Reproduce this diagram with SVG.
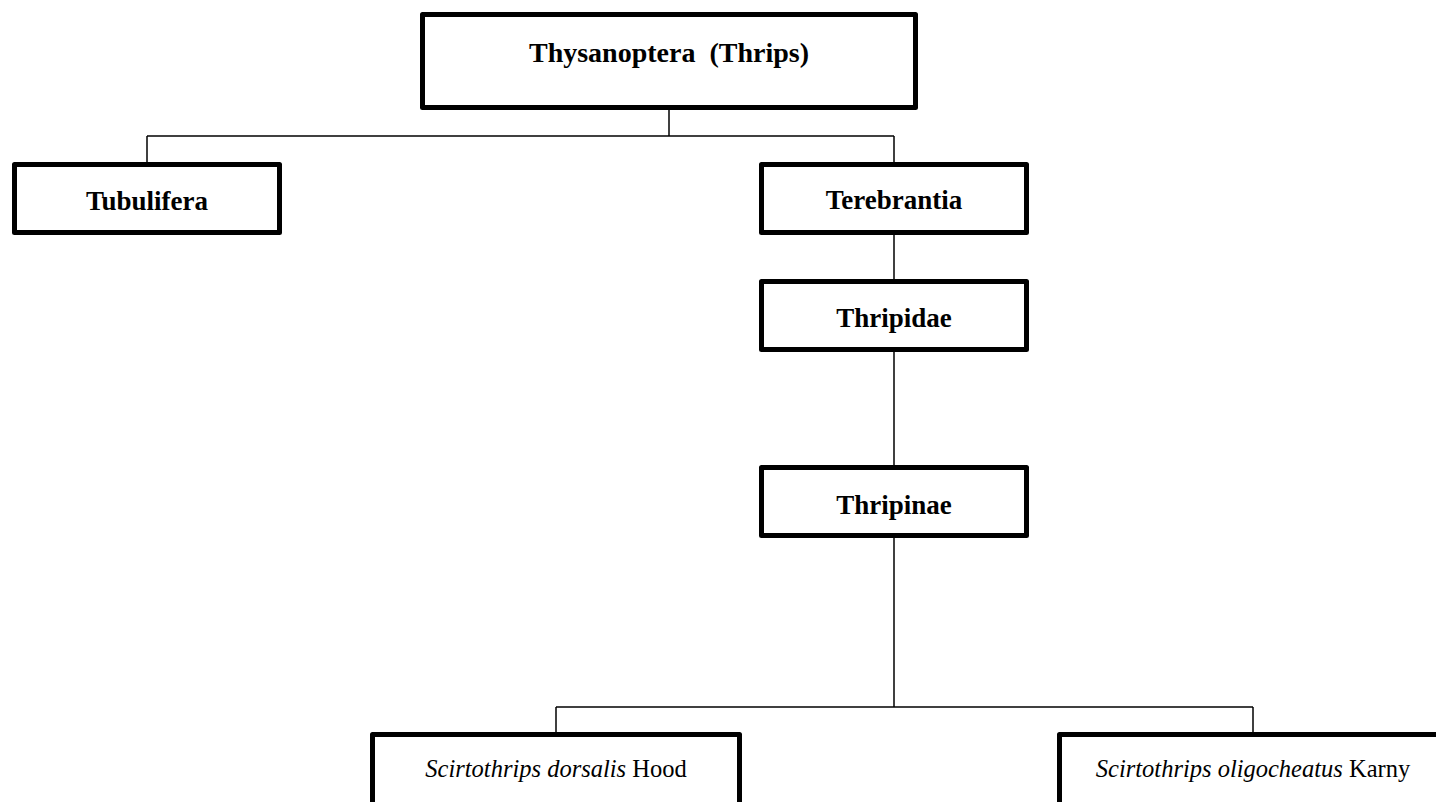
<svg xmlns="http://www.w3.org/2000/svg" width="1436" height="802" viewBox="0 0 1436 802">
<style>
.box{fill:#fff;stroke:#000;stroke-width:5;stroke-linejoin:round}
.lbl{font-family:"Liberation Serif","Times New Roman",serif;font-weight:bold;font-size:27px;text-anchor:middle;fill:#000}
.sp{font-family:"Liberation Serif","Times New Roman",serif;font-size:24.5px;text-anchor:middle;fill:#000}
.conn{fill:none;stroke:#000;stroke-width:1.5}
</style>
<rect width="1436" height="802" fill="#fff"/>
<g id="connectors" class="conn">
<path d="M669,110 V136"/>
<path d="M147,136 H894"/>
<path d="M147,136 V162"/>
<path d="M894,136 V162"/>
<path d="M894,235 V279"/>
<path d="M894,352 V465"/>
<path d="M894,538 V707"/>
<path d="M556,707 H1253"/>
<path d="M556,707 V732"/>
<path d="M1253,707 V732"/>
</g>
<g id="thysanoptera">
<rect class="box" x="422.5" y="14.5" width="493" height="93"/>
<text class="lbl" x="669" y="62" font-size="28" xml:space="preserve" style="font-size:28px">Thysanoptera  (Thrips)</text>
</g>
<g id="tubulifera">
<rect class="box" x="14.5" y="164.5" width="265" height="68"/>
<text class="lbl" x="147" y="210">Tubulifera</text>
</g>
<g id="terebrantia">
<rect class="box" x="761.5" y="164.5" width="265" height="68"/>
<text class="lbl" x="894" y="209">Terebrantia</text>
</g>
<g id="thripidae">
<rect class="box" x="761.5" y="281.5" width="265" height="68"/>
<text class="lbl" x="894" y="327">Thripidae</text>
</g>
<g id="thripinae">
<rect class="box" x="761.5" y="467.5" width="265" height="68"/>
<text class="lbl" x="894" y="514">Thripinae</text>
</g>
<g id="dorsalis">
<rect class="box" x="372.5" y="734.5" width="367" height="80"/>
<text class="sp" x="556" y="777"><tspan font-style="italic">Scirtothrips dorsalis</tspan> Hood</text>
</g>
<g id="oligocheatus">
<rect class="box" x="1059.5" y="734.5" width="387" height="80"/>
<text class="sp" x="1253" y="777"><tspan font-style="italic">Scirtothrips oligocheatus</tspan> Karny</text>
</g>
</svg>
